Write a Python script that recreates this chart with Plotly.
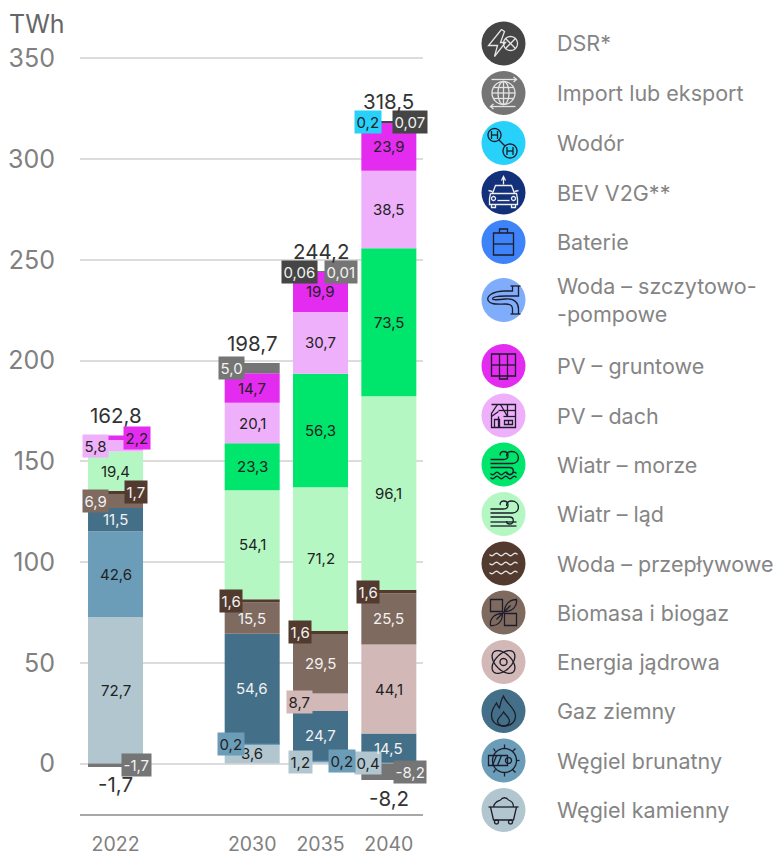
import math
import plotly.graph_objects as go

W, H = 776, 856
years = ["2022", " ", "2030", "2035", "2040"]
bar_years = ["2022", "2030", "2035", "2040"]

wegiel_kamienny = [72.7, 9.6, 1.2, 0.4]
wegiel_brunatny = [42.6, 0.2, 0.2, 0]
gaz_ziemny = [11.5, 54.6, 24.7, 14.5]
energia_jadrowa = [0, 0, 8.7, 44.1]
biomasa = [6.9, 15.5, 29.5, 25.5]
woda_przeplywowe = [1.7, 1.6, 1.6, 1.6]
wiatr_lad = [19.4, 54.1, 71.2, 96.1]
wiatr_morze = [0, 23.3, 56.3, 73.5]
pv_dach = [5.8, 20.1, 30.7, 38.5]
pv_gruntowe = [2.2, 14.7, 19.9, 23.9]
wodor = [0, 0, 0, 0.2]
dsr = [0, 0, 0.06, 0.07]
import_eksport = [-1.7, 5.0, 0.01, -8.2]

totals_pos = [162.8, 198.7, 244.2, 318.5]
totals_neg = [-1.7, None, None, -8.2]
total_labels = ["162,8", "198,7", "244,2", "318,5"]
neg_labels = ["-1,7", None, None, "-8,2"]

series = [
    ("Węgiel kamienny", wegiel_kamienny, "#b1c6cf", "#222222"),
    ("Węgiel brunatny", wegiel_brunatny, "#6b9cb8", "#222222"),
    ("Gaz ziemny", gaz_ziemny, "#446f88", "#f2f2f2"),
    ("Energia jądrowa", energia_jadrowa, "#d2b8b6", "#222222"),
    ("Biomasa i biogaz", biomasa, "#7f6a60", "#f2f2f2"),
    ("Woda – przepływowe", woda_przeplywowe, "#533a2f", "#f2f2f2"),
    ("Wiatr – ląd", wiatr_lad, "#b4f7c3", "#222222"),
    ("Wiatr – morze", wiatr_morze, "#00e56b", "#222222"),
    ("PV – dach", pv_dach, "#efb0fb", "#222222"),
    ("PV – gruntowe", pv_gruntowe, "#e32cf0", "#222222"),
    ("Wodór", wodor, "#27d1fa", "#222222"),
    ("DSR*", dsr, "#454545", "#f2f2f2"),
    ("Import lub eksport", import_eksport, "#757575", "#f2f2f2"),
]

# Printed labels per series/year (the 2030 coal label reads 3,6 in the source)
labels = {
    0: ["72,7", "3,6", "1,2", "0,4"],
    1: ["42,6", "0,2", "0,2", None],
    2: ["11,5", "54,6", "24,7", "14,5"],
    3: [None, None, "8,7", "44,1"],
    4: ["6,9", "15,5", "29,5", "25,5"],
    5: ["1,7", "1,6", "1,6", "1,6"],
    6: ["19,4", "54,1", "71,2", "96,1"],
    7: [None, "23,3", "56,3", "73,5"],
    8: ["5,8", "20,1", "30,7", "38,5"],
    9: ["2,2", "14,7", "19,9", "23,9"],
    10: [None, None, None, "0,2"],
    11: [None, None, "0,06", "0,07"],
    12: ["-1,7", "5,0", "0,01", "-8,2"],
}
# Labels pulled out beside the bar: (series, year) -> x offset
side = {
    (4, 0): -20, (5, 0): 20.5, (8, 0): -20, (9, 0): 21, (12, 0): 21,
    (1, 1): -21, (5, 1): -21, (12, 1): -20.5,
    (0, 2): -20.5, (1, 2): 21, (3, 2): -21, (5, 2): -20.5, (11, 2): -21, (12, 2): 20.5,
    (0, 3): -21, (5, 3): -20.5, (10, 3): -21, (11, 3): 21, (12, 3): 21,
}

FONT = "Inter, 'Liberation Sans', sans-serif"
fig = go.Figure()
for name, vals, col, _ in series:
    fig.add_bar(x=bar_years, y=vals, name=name, marker=dict(color=col, line_width=0), showlegend=False)

annotations = []
pos_base = [0, 0, 0, 0]
neg_base = [0, 0, 0, 0]
for si, (name, vals, col, tc) in enumerate(series):
    for yi, v in enumerate(vals):
        if v >= 0:
            mid = pos_base[yi] + v / 2
            pos_base[yi] += v
        else:
            mid = neg_base[yi] + v / 2
            neg_base[yi] += v
        lab = labels[si][yi]
        if lab is None:
            continue
        a = dict(x=years.index(bar_years[yi]), y=mid, xref="x", yref="y", text=lab, showarrow=False,
                 yanchor="middle", font=dict(family=FONT, size=15, color=tc))
        if (si, yi) in side:
            a.update(xshift=side[(si, yi)], bgcolor=col, borderpad=1.5)
        annotations.append(a)

for yi, y in enumerate(bar_years):
    xi = years.index(y)
    annotations.append(dict(x=xi, y=totals_pos[yi], xref="x", yref="y", text=total_labels[yi], showarrow=False,
                            yshift=20, yanchor="middle", font=dict(family=FONT, size=20.5, color="#333333")))
    if totals_neg[yi] is not None:
        annotations.append(dict(x=xi, y=totals_neg[yi], xref="x", yref="y", text=neg_labels[yi], showarrow=False,
                                yshift=-18, yanchor="middle", font=dict(family=FONT, size=20.5, color="#333333")))

annotations.append(dict(x=7 / W, y=1 - 24 / H, xref="paper", yref="paper", text="TWh", showarrow=False,
                        xanchor="left", yanchor="middle", font=dict(family=FONT, size=25, color="#666666")))


# ---------- legend: circles, pictograms and text, in page pixels ----------
def fx(x):
    return x / W


def fy(y):
    return 1 - y / H


def poly(pts, closed=False):
    s = "M " + " L ".join(f"{p[0]:.2f} {p[1]:.2f}" for p in pts)
    return s + (" Z" if closed else "")


def ell(cx, cy, rx, ry=None, rot=0):
    ry = rx if ry is None else ry
    t = math.radians(rot)
    pts = []
    for i in range(40):
        a = 2 * math.pi * i / 40
        ex, ey = rx * math.cos(a), ry * math.sin(a)
        pts.append((cx + ex * math.cos(t) - ey * math.sin(t), cy + ex * math.sin(t) + ey * math.cos(t)))
    return poly(pts, True)


def wave(x0, x1, y, amp=1.3, n=3):
    pts = []
    for i in range(25):
        f = i / 24
        pts.append((x0 + (x1 - x0) * f, y + amp * math.sin(f * n * 2 * math.pi)))
    return poly(pts)


def line(*c):
    return poly([(c[i], c[i + 1]) for i in range(0, len(c), 2)])


WIND = [
    "M -13 -5 L 0 -5 C 6 -5 6 -13 0 -13 C -3 -13 -4 -10 -3 -9",
    "M -13 -1 L 9 -1 C 17 -1 17 -13 8 -13 C 4 -13 3 -10 3 -8",
    "M -13 3 L 6 3 C 11 3 11 10 6 10 C 3 10 3 8 3 7",
]
ICON_DARK = "#1d1d2b"
ICON_LIGHT = "#e4e4e4"
icons = [
    (ICON_LIGHT, [line(-2, -14, -15, 2, -6, 2, -9, 13, 2, -1, -3, -1, 1, -12, -2, -14), ell(7, 0, 7),
                  line(2, -5, 12, 5), line(2, 5, 12, -5)]),
    (ICON_LIGHT, [ell(0, 0, 11.5), ell(0, 0, 5.5, 11.5), line(-11.5, 0, 11.5, 0), line(-10, -5.5, 10, -5.5),
                  line(-10, 5.5, 10, 5.5), line(0, -11.5, 0, 11.5),
                  line(-12, -13.5, 13, -13.5), line(10, -16, 13, -13.5, 10, -11),
                  line(12, 13.5, -13, 13.5), line(-10, 11, -13, 13.5, -10, 16)]),
    (ICON_DARK, [ell(-9, -8, 6.5), ell(6.5, 8, 7), line(-12, -12, -12, -4), line(-6, -12, -6, -4), line(-12, -8, -6, -8),
                 line(3.5, 4, 3.5, 12), line(9.5, 4, 9.5, 12), line(3.5, 8, 9.5, 8), line(-4.5, -3, 1.5, 3)]),
    ("#f0f0f0", [line(-11, 1, -8, -7, 8, -7, 11, 1), line(-13, 1, 13, 1, 14, 6, 14, 12, -14, 12, -14, 6, -13, 1),
                 line(-12, 12, -12, 15, -8, 15, -8, 12), line(12, 12, 12, 15, 8, 15, 8, 12),
                 line(-6, 8, 6, 8), ell(-10, 6, 2), ell(10, 6, 2), line(0, -15, 0, -8), line(-2, -12, 0, -16, 2, -12),
                 line(-15, -2, -11, -1), line(15, -2, 11, -1)]),
    (ICON_DARK, [poly([(-10, -9), (10, -9), (10, 13), (-10, 13)], True), line(-10, 2, 10, 2),
                 poly([(-4, -9), (-4, -13), (4, -13), (4, -9)])]),
    (ICON_DARK, ["M 9 -14 L 9 -9 L 2 -9 C -12 -9 -18 -3 -15 1 C -13 5 -6 4 2 4 C 8 4 9 7 9 9 L 9 14",
                 "M 15 -14 L 15 -4 L 2 -4 C -6 -4 -11 -3 -11 -1 C -11 0 -6 0 2 -1 C 12 -2 15 4 15 9 L 15 14",
                 line(7, -14, 17, -14), line(7, 14, 17, 14)]),
    (ICON_DARK, [poly([(-12, -12), (12, -12), (12, 10), (-12, 10)], True), line(-4, -12, -4, 10), line(4, -12, 4, 10),
                 line(-12, -1, 12, -1), line(-4, 10, -4, 13, 4, 13, 4, 10)]),
    (ICON_DARK, [line(-12, -11, 12, -11, 12, 12, -12, 12, -12, -2, -6, -11), line(-5, -5, 12, -5), line(0, 1, 12, 1),
                 line(-3, -11, 4, 1), line(4, -11, 4, 1), line(-12, 1, -5, -4), line(-5, 1, -5, 12),
                 line(-9, 12, -9, 4, -4, 4, -4, 12), poly([(1, 5), (9, 5), (9, 9), (1, 9)], True), line(5, 5, 5, 9)]),
    (ICON_DARK, WIND + [wave(-13, 13, 9), wave(-13, 13, 13)]),
    (ICON_DARK, WIND + [line(-13, 8, 13, 8), line(-13, 12, 13, 12)]),
    (ICON_LIGHT, [wave(-14, 14, -9), wave(-14, 14, 0), wave(-14, 14, 9)]),
    (ICON_DARK, ["M -1 -1 L -1 -13 L -13 -13 L -13 -1 Z", "M 1 -1 C 1 -8 6 -13 13 -13 C 14 -6 9 -1 1 -1 Z",
                 "M -1 1 C -9 1 -14 6 -13 13 C -6 14 -1 9 -1 1 Z", "M 1 1 L 13 1 L 13 13 L 1 13 Z",
                 line(-7, 7, 7, -7)]),
    (ICON_DARK, [ell(0, 0, 3.5), ell(0, 0, 14, 8, 45), ell(0, 0, 14, 8, -45)]),
    (ICON_DARK, ["M 0 -15 C 2 -8 12 -3 12 5 C 12 12 6 15 0 15 C -7 15 -12 11 -12 4 C -12 -1 -9 -5 -7 -8 C -6 -5 -5 -4 -4 -3 C -3 -8 -2 -12 0 -15 Z",
                 "M 0 1 C 3 5 6 7 6 10 C 6 13 3 15 0 15 C -3 15 -6 13 -6 10 C -6 7 -2 5 0 1 Z"]),
    (ICON_DARK, [ell(1, 0, 12), poly([(-15, -5), (4, -5), (4, 5), (-15, 5)], True), line(-11, 5, -7, -5), line(-6, 5, -2, -5),
                 ell(5, 0, 3), line(1, -12, 1, -16), line(1, 12, 1, 16), line(13, 0, 16, 0), line(9, -9, 12, -12), line(9, 9, 12, 12),
                 line(-8, -9, -10, -12), line(-8, 9, -10, 12)]),
    (ICON_DARK, [line(-15, -3, 15, -3), line(-13, -3, -10, 10, 10, 10, 13, -3), ell(-7, 12, 2), ell(7, 12, 2),
                 "M -10 -3 C -9 -9 -5 -9 -3 -10 C -1 -13 3 -13 5 -10 C 8 -9 10 -7 10 -3"]),
]

legend_names = ["DSR*", "Import lub eksport", "Wodór", "BEV V2G**", "Baterie", "Woda – szczytowo-<br>-pompowe",
                "PV – gruntowe", "PV – dach", "Wiatr – morze", "Wiatr – ląd", "Woda – przepływowe",
                "Biomasa i biogaz", "Energia jądrowa", "Gaz ziemny", "Węgiel brunatny", "Węgiel kamienny"]
legend_colors = ["#454545", "#757575", "#27d1fa", "#12317a", "#3f83f8", "#7fadfc", "#e32cf0", "#efb0fb",
                 "#00e56b", "#b4f7c3", "#533a2f", "#7f6a60", "#d2b8b6", "#446f88", "#6b9cb8", "#b1c6cf"]
legend_y = [43.5, 93, 143, 192.5, 242, 300, 366, 415.5, 464.5, 514, 563.5, 612.5, 662, 711, 760.5, 810]
legend_cx, legend_r, legend_tx = 503.5, 22, 555


def to_paper(path, cx, cy):
    out, isx = [], True
    for tok in path.split():
        if tok.isalpha():
            out.append(tok)
            continue
        val = float(tok)
        if isx:
            out.append(f"{fx(cx + val):.5f}")
        else:
            out.append(f"{fy(cy + val):.5f}")
        isx = not isx
    return " ".join(out)


shapes = []
for name, col, cy, (ic, paths) in zip(legend_names, legend_colors, legend_y, icons):
    shapes.append(dict(type="circle", xref="paper", yref="paper", x0=fx(legend_cx - legend_r), x1=fx(legend_cx + legend_r),
                       y0=fy(cy + legend_r), y1=fy(cy - legend_r), fillcolor=col, line_width=0))
    for p in paths:
        shapes.append(dict(type="path", xref="paper", yref="paper", path=to_paper(p, legend_cx, cy),
                           line=dict(color=ic, width=1.3)))
    annotations.append(dict(x=fx(legend_tx), y=fy(cy), xref="paper", yref="paper", text=name, showarrow=False,
                            xanchor="left", yanchor="middle", align="left",
                            font=dict(family=FONT, size=21.5, color="#858585")))

PX_PER_UNIT = 2.015
fig.update_layout(
    width=W, height=H, margin=dict(l=0, r=0, t=0, b=0),
    paper_bgcolor="white", plot_bgcolor="white",
    barmode="relative", bargap=0.195,
    font=dict(family=FONT),
    annotations=annotations, shapes=shapes,
    xaxis=dict(domain=[80 / W, 423 / W], type="category", categoryorder="array", categoryarray=years,
               range=[-0.52, 4.5], automargin=False, showgrid=False, showline=True, linecolor="#a8a8a8", linewidth=2,
               ticks="outside", ticklen=12, tickcolor="rgba(0,0,0,0)",
               tickfont=dict(family=FONT, size=19.5, color="#808080"), fixedrange=True),
    yaxis=dict(domain=[1 - 813.5 / H, 1 - 50 / H], range=[-50 / PX_PER_UNIT, 713.5 / PX_PER_UNIT],
               automargin=False, tickvals=[0, 50, 100, 150, 200, 250, 300, 350], showgrid=True, gridcolor="#dcdcdc", gridwidth=2,
               zeroline=True, zerolinecolor="#dcdcdc", zerolinewidth=2, showline=False,
               ticks="outside", ticklen=19, tickcolor="rgba(0,0,0,0)",
               tickfont=dict(family=FONT, size=25, color="#808080"), fixedrange=True),
)
fig.write_html("out.html", post_script="document.body.style.margin='0';", config=dict(displayModeBar=False))
